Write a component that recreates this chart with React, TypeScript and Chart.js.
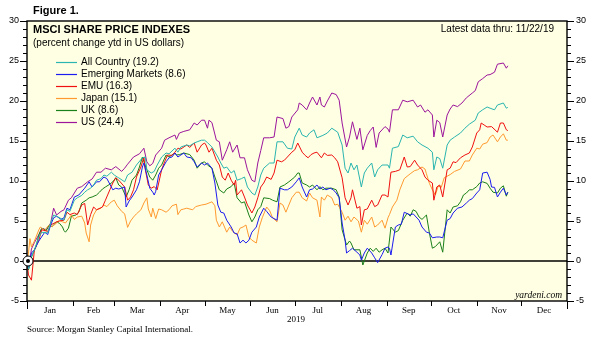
import React, { useEffect, useRef } from 'react';
import { Chart, registerables } from 'chart.js';
Chart.register(...registerables);

const monthLabels = ['Jan', 'Feb', 'Mar', 'Apr', 'May', 'Jun', 'Jul', 'Aug', 'Sep', 'Oct', 'Nov', 'Dec'];
const monthStarts = [0, 31, 59, 90, 120, 151, 181, 212, 243, 273, 304, 334, 365];
const yearLabel = '2019';

const seriesNames = ['All Country (19.2)', 'Emerging Markets (8.6)', 'EMU (16.3)', 'Japan (15.1)', 'UK (8.6)', 'US (24.4)'];
const seriesColors = ['#2ab5b0', '#1c1cf0', '#f01010', '#ff9a30', '#1a801a', '#9c159c'];

// [day of year, % change ytd]
const allCountry = [[0,0],[1,-1],[3,0.5],[5,1.4],[8,3],[10,3.6],[14,3.5],[16,4.75],[18,5.75],[20,5.6],[25,5.1],[27,6.4],[29,6.2],[32,7.6],[34,7.9],[37,8.2],[39,8.6],[41,8.9],[43,9.1],[45,9.5],[47,10.1],[50,10.3],[52,10.75],[54,10.6],[57,11.1],[59,10.75],[61,10.5],[62,10.4],[66,9.9],[68,10.75],[71,11.1],[74,12],[78,12.9],[80,13],[81,11.4],[84,11],[86,11.2],[88,12],[91,13],[94,13.5],[96,13.4],[100,14.1],[102,13.6],[104,14.25],[108,14.5],[110,14.4],[113,14.75],[115,14.9],[118,15.1],[120,15.1],[122,14.8],[125,14.25],[129,13],[131,12.25],[133,11.6],[135,11.75],[138,11],[140,11.3],[142,10.1],[145,10.3],[147,10.5],[149,9.25],[152,8.5],[154,8.25],[156,9.25],[158,10.75],[160,11.6],[164,12.25],[167,12.25],[169,14.9],[173,14.9],[176,14.1],[179,14],[181,15.5],[184,16.6],[186,15.75],[189,15.5],[191,16],[194,16.4],[196,15.4],[200,15.7],[203,16],[206,16.6],[210,16.1],[213,14.5],[215,11.6],[217,11],[219,12.25],[221,11.4],[223,12],[226,9.25],[228,11],[230,11.6],[233,12.25],[235,10.5],[237,11.4],[240,12],[244,12],[245,11.6],[247,14.1],[251,14.3],[254,15.75],[257,15.4],[261,15.6],[264,14.9],[267,14.5],[271,14.1],[274,13.6],[275,11.4],[277,13],[279,12.8],[281,11.6],[284,14.5],[286,15.1],[289,15.5],[293,16],[296,16.6],[299,17.1],[303,17.6],[305,18.5],[308,18.9],[311,19.25],[313,19.1],[316,18.9],[318,19.5],[322,19.75],[324,19.1],[325,19.2]];

const emergingMarkets = [[0,0],[1,-1],[3,1],[5,1.4],[8,2.5],[12,3.6],[14,3.3],[16,4.5],[18,5.4],[20,5.6],[23,5.2],[25,5.4],[27,6.6],[29,6.4],[32,8],[35,8.25],[39,9.1],[42,9.9],[44,9.25],[47,9.9],[49,9.9],[52,10.5],[54,10.3],[58,8.9],[60,9.1],[62,9],[66,9.25],[67,6.75],[69,7.5],[71,8],[74,8.9],[76,9.9],[78,11.75],[79,12.25],[81,10.75],[83,9.1],[85,8.6],[86,8.25],[87,8.7],[89,10.75],[91,11.4],[94,12.4],[96,12.9],[98,13],[100,13.5],[102,13],[104,13.25],[106,13.5],[108,13],[111,12.9],[113,12.4],[115,11.75],[118,12.25],[120,12],[122,12.25],[125,11.6],[127,9.75],[129,7],[131,6.1],[133,6],[135,5.1],[138,4.25],[140,3.5],[142,3.4],[144,2.25],[146,2.6],[148,2.25],[150,2.6],[152,3.6],[155,4.25],[157,5.5],[160,6.6],[162,6.2],[165,5.5],[169,5.1],[171,9.1],[174,8.9],[176,8.9],[179,9.25],[182,9.9],[184,10.4],[186,9.25],[189,8],[191,8.9],[193,9],[196,9.5],[198,9],[200,9.25],[202,8.9],[205,9.1],[207,8.9],[209,8.5],[211,7.9],[213,4.75],[215,2.6],[216,1],[218,1.3],[220,1.6],[223,1.1],[225,0.75],[226,0.1],[228,1],[230,1.6],[233,1],[235,0.4],[237,-0.2],[240,0.8],[242,1.6],[244,1.75],[245,1.6],[246,0.75],[249,4.25],[251,4.5],[253,4.6],[255,6.1],[259,5.75],[261,5.9],[263,5.5],[265,5.1],[267,4.25],[270,3.6],[272,3.5],[274,2.9],[277,3],[279,3],[281,2.9],[284,5.1],[286,5.3],[288,6],[291,6.6],[294,6.75],[297,7.25],[299,7.6],[301,7.8],[304,8.5],[306,8.9],[308,11],[311,11.1],[313,10.2],[314,9.25],[316,9.2],[318,8],[320,8.6],[322,9.1],[324,8.25],[325,8.6]];

const emu = [[0,0],[1,-1.75],[3,-2.4],[5,1.4],[8,2.6],[10,3.9],[14,3.7],[16,4.5],[20,4.9],[22,5],[25,5.1],[27,6.1],[29,5.8],[32,6],[34,5.8],[37,7],[39,7.2],[41,4.5],[43,5.8],[45,6.75],[47,6.4],[51,6.75],[53,7.6],[56,8.9],[58,9.75],[60,10.4],[62,10.1],[66,9.25],[68,7.6],[70,8],[72,8.9],[74,10.5],[77,11.75],[79,13],[80,11.4],[82,9.5],[84,9.1],[86,9.3],[88,8.9],[91,11.4],[93,12.4],[95,13.25],[98,13.2],[100,13.6],[102,14.1],[104,14],[108,14.5],[110,14.2],[113,14.75],[115,13.6],[118,14.5],[120,14.75],[121,14.5],[123,13.6],[125,14.1],[128,12.6],[130,12],[132,10.5],[134,10.1],[136,11],[138,10.1],[140,9.5],[141,10.1],[142,8.25],[145,8.9],[147,8],[149,7],[152,6],[154,6.75],[156,7.9],[158,9.25],[160,9.75],[162,10.5],[165,10.2],[167,11],[169,12.6],[172,12.4],[174,12.6],[176,13],[179,13.6],[181,13.9],[183,14.75],[186,13.6],[188,13.2],[190,12.9],[192,13.3],[194,13.5],[196,13.6],[199,12.9],[201,13.5],[203,13.2],[206,13.25],[208,12.9],[210,12.4],[213,10.4],[215,7.9],[217,7],[219,7.9],[220,8.9],[223,6.6],[225,6.8],[226,4.5],[228,6.4],[230,6.5],[233,7.6],[235,6.8],[237,7],[240,8.25],[242,8.25],[244,8],[246,11.1],[249,11.2],[252,11.4],[255,13],[257,11.75],[259,11.8],[262,12.6],[264,12],[267,11.4],[269,10.5],[271,10.1],[274,9.75],[275,7.6],[277,9.25],[279,9.5],[281,8],[284,11.4],[286,11.6],[288,12.4],[290,12.3],[293,12.9],[296,13.25],[299,13.5],[301,14.25],[304,16],[306,16.4],[307,17.25],[309,17],[311,16.75],[314,16.8],[318,16.1],[320,17.25],[322,17.25],[324,16.4],[325,16.3]];

const japan = [[0,0],[1,1],[2,2.8],[3,1.75],[5,2.5],[8,3.9],[9,4.25],[12,3.8],[13,4.1],[15,4.5],[17,4.3],[20,4.75],[22,5.1],[24,4.9],[26,4.75],[30,5.75],[32,5.2],[34,5.5],[37,5.6],[39,4.75],[40,3.5],[42,2.4],[43,4.5],[45,5.75],[47,6.4],[50,6.6],[52,7],[54,6.8],[57,7.4],[59,7.6],[61,6.9],[64,6.2],[66,5.9],[68,4.2],[70,5],[72,5.5],[74,5.9],[77,6.4],[79,7.25],[81,7.9],[82,6.5],[84,5.5],[85,6.6],[87,5.3],[89,6.5],[91,6.4],[94,6.1],[96,6.4],[98,6.9],[101,7.1],[102,5.8],[104,6.4],[106,6.5],[108,6.6],[112,6.4],[114,6.8],[118,7],[121,7.1],[125,7.4],[127,6.9],[128,5.1],[130,4.25],[132,4.9],[135,3.6],[137,4.25],[139,3.7],[142,3.25],[144,4.1],[146,4.25],[148,4.5],[150,3],[152,2.6],[155,2.25],[157,4.25],[159,5.4],[162,6.75],[164,6.3],[166,5.4],[169,4.9],[171,7.25],[173,7],[175,6.1],[177,7],[179,7.9],[182,8.6],[184,8.6],[186,7.9],[189,7.5],[191,8.5],[193,7.9],[196,7.6],[198,5.5],[199,8],[201,7.6],[203,8.25],[206,7.9],[208,7],[210,7.1],[213,6.1],[215,5.1],[217,5.6],[219,4.9],[221,5.5],[224,5],[226,3.6],[228,5.1],[230,4.6],[233,5.5],[235,4.25],[237,4.5],[240,5.1],[242,4.1],[244,5.4],[245,5.8],[247,6.75],[250,7.6],[252,8.9],[255,10.3],[259,10.9],[262,11.3],[264,11.4],[267,11.75],[269,11.5],[270,10.9],[272,9.7],[274,8.9],[276,8.25],[278,9.4],[280,9.2],[282,10.4],[286,10.8],[289,11.2],[293,11.5],[296,12.5],[299,12.5],[301,13.25],[304,14.1],[306,14],[308,14.6],[311,14.8],[313,15.5],[315,15.75],[318,14.9],[320,15.5],[322,15.9],[324,15.1],[325,15.1]];

const uk = [[0,0],[1,-1.1],[3,0.5],[6,1.75],[8,3.25],[10,4.1],[13,3.8],[15,4.5],[17,4.3],[20,4.9],[22,4.7],[24,4.25],[25,3.8],[26,3.6],[28,4.1],[30,5.6],[33,5.75],[35,6.1],[37,7.25],[40,7.6],[42,7.9],[44,8],[47,8.25],[49,8.6],[51,9],[53,9.25],[56,9.6],[58,9.9],[60,10.4],[62,9.5],[64,9.25],[67,8],[69,8.9],[71,10.1],[74,10.75],[76,11.75],[78,13],[79,12.4],[81,11.4],[83,10.5],[85,10.1],[87,10.75],[89,11.6],[91,12],[94,13.25],[96,13],[100,13.5],[101,13.25],[103,13.3],[106,13.5],[110,13.3],[113,12.6],[115,11.6],[118,12.25],[120,12.4],[122,12],[125,11.6],[127,10.5],[130,8.9],[133,8.5],[135,9],[138,9.3],[140,9.75],[142,7.9],[145,7.25],[147,7.4],[150,5.75],[152,4.9],[154,5.5],[156,6.4],[158,6.8],[160,7.9],[164,7.8],[166,7.6],[169,7.4],[171,9.25],[174,9.5],[177,9.9],[181,10.5],[183,11],[184,11],[186,9.75],[189,9.5],[191,9.25],[193,9.5],[196,8.9],[198,9.3],[200,8.9],[202,9.1],[206,9.1],[209,8.9],[211,8],[213,3.9],[216,2],[218,2.5],[219,2.25],[221,1.4],[225,1.4],[227,-0.5],[230,1],[232,1.6],[234,1.2],[236,1.6],[238,1.1],[240,1.4],[242,1.6],[244,1],[246,4.25],[249,3.6],[251,3.8],[254,5.1],[257,6],[259,5.6],[261,6.4],[263,6.2],[265,5.5],[267,5.2],[270,5.75],[272,3.5],[274,1.6],[276,1.8],[279,2.4],[281,1.1],[284,6.4],[286,6],[288,6.75],[291,6.9],[293,7.4],[295,8.25],[297,8.5],[299,8.9],[301,8.9],[304,9.3],[306,9.75],[308,9.9],[311,9.7],[313,9.1],[315,8.6],[318,8.5],[320,9.1],[322,9.4],[324,8.1],[325,8.6]];

const us = [[0,0],[1,-1],[3,1.5],[5,2.3],[8,3.3],[10,4.1],[13,3.9],[16,4.75],[18,6.6],[20,5.75],[23,6.2],[25,6.4],[28,7.6],[30,7.9],[34,9.1],[37,9.3],[41,9.9],[44,10.25],[47,11.1],[50,11.1],[53,11.6],[57,11.4],[60,11.8],[64,11.2],[66,11.6],[68,12.1],[72,13],[76,13.4],[79,14.1],[81,12.4],[83,11.9],[85,12.2],[87,13.25],[91,14.1],[93,15.1],[96,15.4],[100,15.75],[101,15.2],[103,16],[106,16.2],[110,16.4],[113,17.25],[115,17],[118,17.6],[120,17.6],[122,16.6],[123,17.6],[125,17.3],[128,15.1],[130,14.9],[132,12.6],[135,13.9],[137,14.9],[139,13.6],[142,14.5],[144,12.9],[147,12.9],[149,11.4],[152,10.1],[154,9.9],[156,12.25],[158,13.8],[160,15.4],[164,15.4],[167,15.5],[169,18],[173,17.8],[175,16.6],[177,16.8],[179,18],[183,18.9],[184,19.75],[186,19.5],[189,18.9],[191,19.75],[193,20.5],[196,19.5],[198,20.5],[199,19.5],[201,19.25],[203,20],[206,21],[209,20.8],[211,20.1],[213,17.25],[216,14.25],[218,15.5],[220,17.4],[223,15.2],[225,16.6],[227,13.9],[230,15.7],[232,16.3],[234,16.75],[236,14.2],[238,16],[242,16.8],[244,16.5],[245,16.1],[247,18.9],[251,18.9],[254,20.1],[257,19.9],[261,20.1],[264,19.25],[266,19.5],[269,18.6],[271,18.9],[274,18.25],[275,15.5],[277,17.6],[279,17.3],[281,15.5],[284,18.25],[286,19],[288,19.5],[291,19.3],[294,19.75],[297,20.4],[301,21],[303,21.3],[305,22.4],[308,22.8],[311,23.25],[313,23.3],[316,23.6],[318,24.6],[322,24.75],[324,24.1],[325,24.4]];

const seriesData = [allCountry, emergingMarkets, emu, japan, uk, us];

const figureLabel = 'Figure 1.';
const titleText = 'MSCI SHARE PRICE INDEXES';
const subtitleText = '(percent change ytd in US dollars)';
const latestText = 'Latest data thru: 11/22/19';
const sourceText = 'Source: Morgan Stanley Capital International.';
const siteText = 'yardeni.com';

const SANS = '"Liberation Sans", Arial, sans-serif';
const SERIF = '"Liberation Serif", "Times New Roman", serif';

const monthMids = monthStarts.slice(0, 12).map((s, i) => (s + monthStarts[i + 1]) / 2);

const decor = {
  id: 'decor',
  beforeDraw(chart: any) {
    const { ctx, chartArea: a } = chart;
    ctx.save();
    ctx.fillStyle = '#ffffff';
    ctx.fillRect(0, 0, chart.width, chart.height);
    ctx.fillStyle = '#FFFFE3';
    ctx.fillRect(a.left, a.top, a.right - a.left, a.bottom - a.top);
    ctx.restore();
  },
  beforeDatasetsDraw(chart: any) {
    const { ctx, chartArea: a } = chart;
    const y0 = chart.scales.y.getPixelForValue(0);
    ctx.save();
    ctx.strokeStyle = '#000';
    ctx.lineWidth = 1.3;
    ctx.beginPath();
    ctx.moveTo(a.left, y0);
    ctx.lineTo(a.right, y0);
    ctx.stroke();
    ctx.restore();
  },
  afterDraw(chart: any) {
    const { ctx, chartArea: a } = chart;
    const ys = chart.scales.y;
    const xs = chart.scales.x;
    ctx.save();
    ctx.strokeStyle = '#000';
    ctx.lineWidth = 1.4;
    ctx.strokeRect(a.left, a.top, a.right - a.left, a.bottom - a.top);
    ctx.lineWidth = 1;
    ctx.beginPath();
    for (let v = -5; v <= 30; v++) {
      const py = Math.round(ys.getPixelForValue(v)) + 0.5;
      const len = v % 5 === 0 ? 7 : 4;
      ctx.moveTo(a.left, py);
      ctx.lineTo(a.left - len, py);
      ctx.moveTo(a.right, py);
      ctx.lineTo(a.right + len, py);
    }
    monthStarts.forEach((d, i) => {
      const px = Math.round(xs.getPixelForValue(d)) + 0.5;
      const len = i === 0 || i === 12 ? 8 : 5;
      ctx.moveTo(px, a.bottom);
      ctx.lineTo(px, a.bottom + len);
    });
    ctx.stroke();

    // origin marker
    const ox = xs.getPixelForValue(0) + 1;
    const oy = ys.getPixelForValue(0);
    ctx.beginPath();
    ctx.arc(ox, oy, 5, 0, Math.PI * 2);
    ctx.fillStyle = '#fff';
    ctx.fill();
    ctx.lineWidth = 1;
    ctx.stroke();
    ctx.beginPath();
    ctx.arc(ox, oy, 2, 0, Math.PI * 2);
    ctx.fillStyle = '#000';
    ctx.fill();

    // texts
    ctx.fillStyle = '#000';
    ctx.textBaseline = 'middle';
    ctx.textAlign = 'left';
    ctx.font = `bold 11px ${SANS}`;
    ctx.fillText(figureLabel, 33, 11);
    ctx.fillText(titleText, 33, 30);
    ctx.font = `10px ${SANS}`;
    ctx.fillText(subtitleText, 33, 43);
    ctx.textAlign = 'right';
    ctx.fillText(latestText, 554, 29.5);

    // legend
    ctx.textAlign = 'left';
    seriesNames.forEach((name, i) => {
      const ly = 62 + i * 12;
      ctx.strokeStyle = seriesColors[i];
      ctx.lineWidth = 1.2;
      ctx.beginPath();
      ctx.moveTo(56, ly + 0.5);
      ctx.lineTo(77, ly + 0.5);
      ctx.stroke();
      ctx.fillStyle = '#000';
      ctx.fillText(name, 81, ly);
    });

    ctx.font = `italic 9.5px ${SERIF}`;
    ctx.textAlign = 'right';
    ctx.fillText(siteText, 562, 295);
    ctx.font = `9px ${SERIF}`;
    ctx.textAlign = 'center';
    ctx.fillText(yearLabel, 296, 320);
    ctx.textAlign = 'left';
    ctx.fillText(sourceText, 27, 330);
    ctx.restore();
  },
};

export default function App() {
  const ref = useRef<HTMLCanvasElement | null>(null);
  useEffect(() => {
    if (!ref.current) return;
    const chart = new Chart(ref.current, {
      type: 'line',
      data: {
        datasets: seriesData.map((s, i) => ({
          label: seriesNames[i],
          data: s.map(([x, y]) => ({ x, y })),
          borderColor: seriesColors[i],
          backgroundColor: seriesColors[i],
          borderWidth: 1,
          pointRadius: 0,
          tension: 0,
          xAxisID: 'x',
          yAxisID: 'y',
        })),
      },
      options: {
        animation: false,
        responsive: false,
        devicePixelRatio: 1,
        layout: { padding: { top: 21, left: 0, right: 0, bottom: 0 } },
        plugins: { legend: { display: false }, tooltip: { enabled: false } },
        scales: {
          x: {
            type: 'linear',
            min: 0,
            max: 365,
            grid: { display: false, drawTicks: false },
            border: { display: false },
            afterBuildTicks: (s: any) => {
              s.ticks = monthMids.map((v) => ({ value: v }));
            },
            afterFit: (s: any) => {
              s.height = 40;
            },
            ticks: {
              autoSkip: false,
              maxRotation: 0,
              padding: 4,
              color: '#000',
              font: { family: SERIF, size: 9 },
              callback: (_v: any, i: number) => monthLabels[i],
            },
          },
          y: {
            type: 'linear',
            position: 'left',
            min: -5,
            max: 30,
            grid: { display: false, drawTicks: false },
            border: { display: false },
            afterFit: (s: any) => {
              s.width = 27;
            },
            ticks: { stepSize: 5, padding: 8, color: '#000', font: { family: SANS, size: 9 } },
          },
          y2: {
            type: 'linear',
            position: 'right',
            min: -5,
            max: 30,
            grid: { display: false, drawTicks: false },
            border: { display: false },
            afterFit: (s: any) => {
              s.width = 33;
            },
            ticks: { stepSize: 5, padding: 9, color: '#000', font: { family: SANS, size: 9 } },
          },
        },
      },
      plugins: [decor],
    });
    return () => chart.destroy();
  }, []);
  return (
    <div style={{ position: 'absolute', left: 0, top: 0, width: 600, height: 341 }}>
      <canvas ref={ref} width={600} height={341} style={{ display: 'block' }} />
    </div>
  );
}
